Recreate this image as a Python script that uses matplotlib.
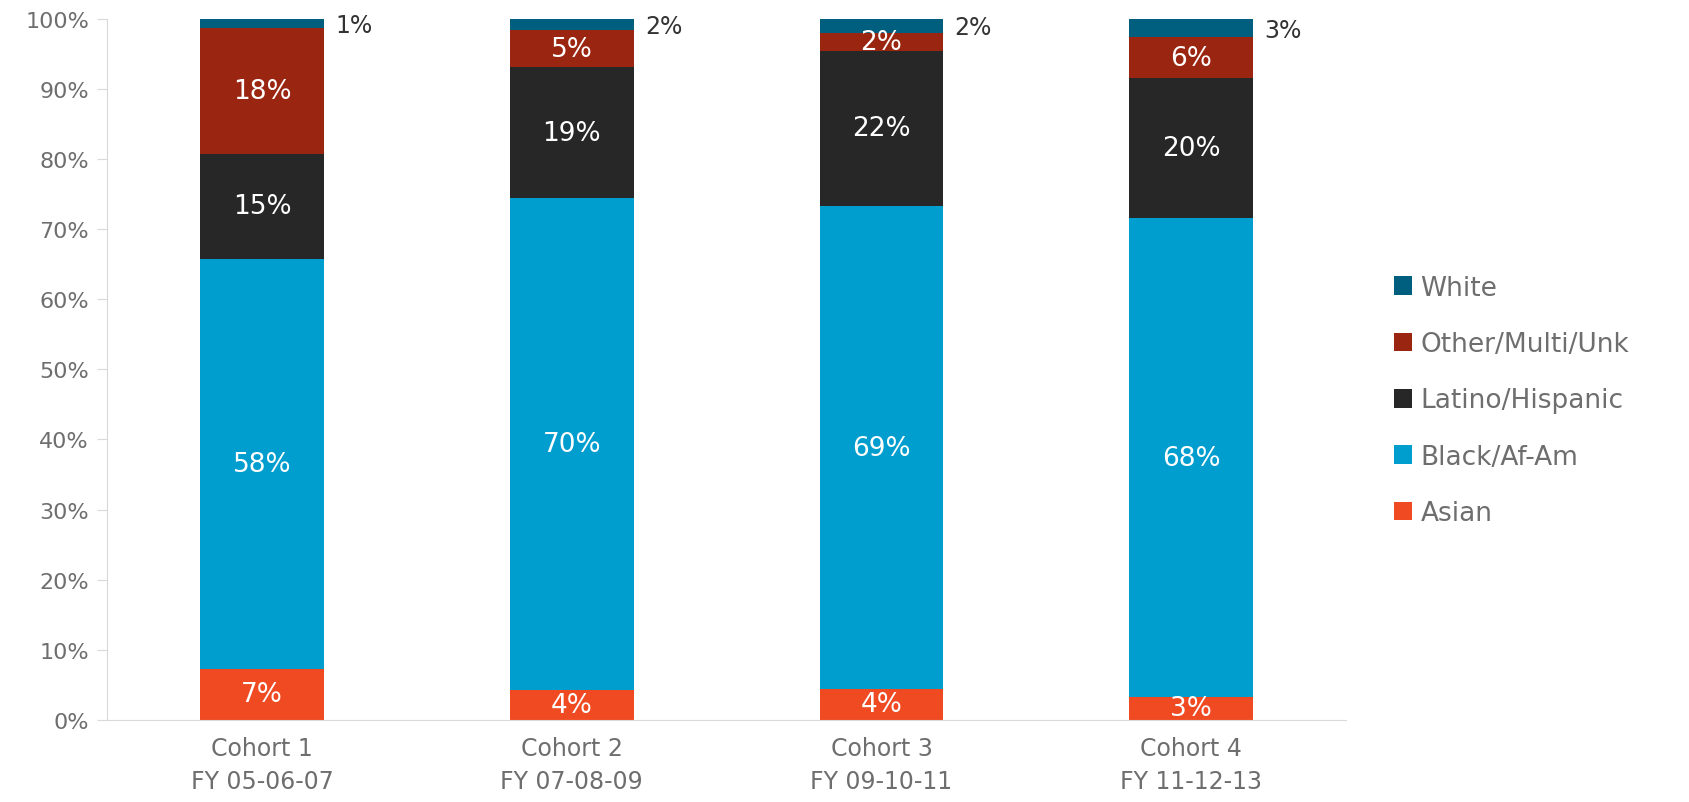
import matplotlib.pyplot as plt
import numpy as np
from matplotlib.ticker import PercentFormatter

plt.rcParams['font.family'] = ['DejaVu Sans']

# cohorts and share of each group (%)
cohorts = ['Cohort 1\nFY 05-06-07', 'Cohort 2\nFY 07-08-09',
           'Cohort 3\nFY 09-10-11', 'Cohort 4\nFY 11-12-13']
asian = [7.2, 4.3, 4.4, 3.2]
black = [58.5, 70.2, 68.9, 68.4]
latino = [15.1, 18.6, 22.2, 20.0]
other = [17.9, 5.3, 2.5, 5.8]
white = [1.3, 1.6, 2.0, 2.6]

series = [('Asian', asian, '#f04a23'),
          ('Black/Af-Am', black, '#009dcf'),
          ('Latino/Hispanic', latino, '#282728'),
          ('Other/Multi/Unk', other, '#9a2510'),
          ('White', white, '#005f7f')]

fig = plt.figure(figsize=(16.89, 8.03), dpi=100)
ax = fig.add_axes([0.0634, 0.1025, 0.7336, 0.8725])

x = np.arange(len(cohorts))
width = 0.4
bottom = np.zeros(len(cohorts))
handles = []
for name, vals, color in series:
    vals = np.array(vals)
    bars = ax.bar(x, vals, width, bottom=bottom, color=color, label=name)
    handles.append(bars)
    for xi, b, v in zip(x, bottom, vals):
        if name == 'White':
            ax.annotate(f'{round(v):.0f}%', (xi + width / 2, b + v / 2),
                        xytext=(8, -1), textcoords='offset points',
                        ha='left', va='center', fontsize=17, color='#333333')
        else:
            ax.text(xi, b + v / 2, f'{round(v):.0f}%', ha='center',
                    va='center', fontsize=19, color='white')
    bottom += vals

ax.set_xlim(-0.5, len(cohorts) - 0.5)
ax.set_ylim(0, 100)
ax.set_yticks(np.arange(0, 101, 10))
ax.yaxis.set_major_formatter(PercentFormatter(decimals=0))
ax.set_xticks(x)
ax.set_xticklabels(cohorts, linespacing=1.45)
ax.tick_params(axis='y', colors='#d9d9d9', labelcolor='#6e6e6e',
               labelsize=16, length=7, pad=6)
ax.tick_params(axis='x', length=0, labelcolor='#6e6e6e', labelsize=17, pad=12)
for s in ['top', 'right']:
    ax.spines[s].set_visible(False)
for s in ['left', 'bottom']:
    ax.spines[s].set_color('#d9d9d9')

fig.legend(handles[::-1], [s[0] for s in series][::-1],
           loc='center left', bbox_to_anchor=(1394 / 1689, 0.5), frameon=False,
           fontsize=19, labelcolor='#6e6e6e', handlelength=0.7,
           handleheight=0.7, handletextpad=0.3, labelspacing=1.15,
           borderpad=0, borderaxespad=0)

fig.savefig('out.png', dpi=100)
